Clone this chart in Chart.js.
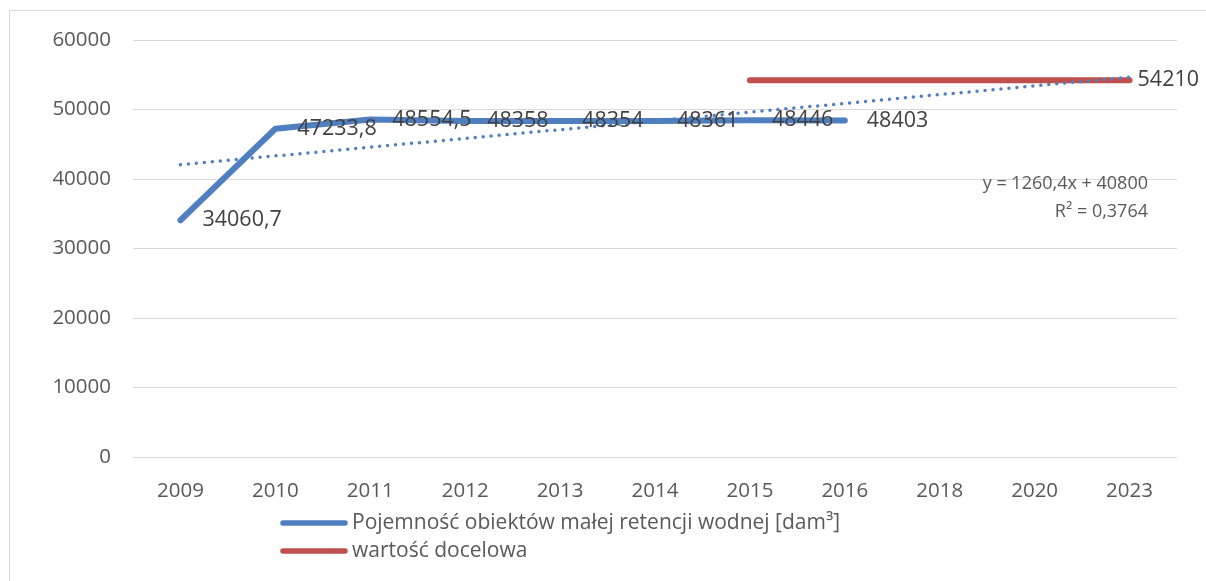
<!DOCTYPE html>
<html>
<head>
<meta charset="utf-8">
<script src="https://cdn.jsdelivr.net/npm/chart.js@4.4.0/dist/chart.umd.min.js"></script>
<style>
  html, body { margin: 0; padding: 0; background: #fff; overflow: hidden; }
  #frame { position: absolute; left: 9px; top: 10px; width: 1300px; height: 700px; border: 1px solid #d9d9d9; }
  #wrap { position: absolute; left: 0; top: 0; width: 1206px; height: 581px; }
</style>
</head>
<body>
<div id="frame"></div>
<div id="wrap"><canvas id="retencjaChart"></canvas></div>
<script>
// dane
const years = ['2009', '2010', '2011', '2012', '2013', '2014', '2015', '2016', '2018', '2020', '2023'];
const pojemnosc = [34060.7, 47233.8, 48554.5, 48358, 48354, 48361, 48446, 48403, null, null, null];
const docelowa = [null, null, null, null, null, null, 54210, 54210, 54210, 54210, 54210];
const trend = [42060, null, null, null, null, null, null, null, null, null, 54660];
const yTicks = [0, 10000, 20000, 30000, 40000, 50000, 60000];
const seriesNames = ['Pojemność obiektów małej retencji wodnej [dam³]', 'wartość docelowa'];
const trendText = ['y = 1260,4x + 40800', 'R² = 0,3764'];

const FONT = '"Open Sans", sans-serif';
const BLUE = '#4f7fbf';
const RED = '#c0504d';

function fmt(v) {
    return String(v).replace('.', ',');
}

// etykiety danych po prawej stronie punktow
const labelsPlugin = {
    id: 'dataLabels',
    afterDatasetsDraw(chart) {
        const ctx = chart.ctx;
        ctx.save();
        ctx.font = '21.5px ' + FONT;
        ctx.fillStyle = '#404040';
        ctx.textAlign = 'left';
        ctx.textBaseline = 'middle';
        chart.getDatasetMeta(0).data.forEach((pt, i) => {
            if (pojemnosc[i] == null) return;
            ctx.fillText(fmt(pojemnosc[i]), pt.x + 22, pt.y);
        });
        const redMeta = chart.getDatasetMeta(1).data;
        const last = redMeta[redMeta.length - 1];
        ctx.fillText(fmt(docelowa[docelowa.length - 1]), last.x + 8, last.y);

        // rownanie linii trendu
        const area = chart.chartArea;
        ctx.fillStyle = '#595959';
        ctx.font = '18px ' + FONT;
        ctx.textAlign = 'right';
        ctx.fillText(trendText[0], area.right - 29, chart.scales.y.getPixelForValue(39300));
        ctx.fillText(trendText[1], area.right - 29, chart.scales.y.getPixelForValue(35300));
        ctx.restore();
    }
};

// legenda w dwoch wierszach pod osia
const legendPlugin = {
    id: 'stackLegend',
    afterDraw(chart) {
        const ctx = chart.ctx;
        const colors = [BLUE, RED];
        ctx.save();
        ctx.font = '21px ' + FONT;
        ctx.fillStyle = '#595959';
        ctx.textAlign = 'left';
        ctx.textBaseline = 'middle';
        ctx.lineCap = 'round';
        ctx.lineWidth = 5.5;
        seriesNames.forEach((name, i) => {
            const y = 523 + i * 28;
            ctx.strokeStyle = colors[i];
            ctx.beginPath();
            ctx.moveTo(283, y);
            ctx.lineTo(345, y);
            ctx.stroke();
            ctx.fillText(name, 352, y);
        });
        ctx.restore();
    }
};

const ctx = document.getElementById('retencjaChart').getContext('2d');

new Chart(ctx, {
    type: 'line',
    data: {
        labels: years,
        datasets: [
            {
                label: seriesNames[0],
                data: pojemnosc,
                borderColor: BLUE,
                borderWidth: 6,
                borderCapStyle: 'round',
                borderJoinStyle: 'round',
                pointRadius: 0,
                tension: 0,
                order: 3
            },
            {
                label: seriesNames[1],
                data: docelowa,
                borderColor: RED,
                borderWidth: 6,
                borderCapStyle: 'round',
                pointRadius: 0,
                tension: 0,
                order: 2
            },
            {
                label: 'trend',
                data: trend,
                borderColor: BLUE,
                borderWidth: 3.5,
                borderDash: [0, 8],
                borderCapStyle: 'round',
                pointRadius: 0,
                spanGaps: true,
                order: 1
            }
        ]
    },
    options: {
        responsive: true,
        maintainAspectRatio: false,
        animation: false,
        layout: {
            padding: { left: 0, top: 40, right: 29, bottom: 74 }
        },
        scales: {
            x: {
                offset: true,
                grid: { display: false },
                border: { display: false },
                ticks: {
                    color: '#595959',
                    font: { family: FONT, size: 20.5 },
                    padding: 14,
                    maxRotation: 0
                },
                afterFit(scale) { scale.height = 50; }
            },
            y: {
                min: 0,
                max: 60000,
                afterBuildTicks(scale) {
                    scale.ticks = yTicks.map(v => ({ value: v }));
                },
                grid: { color: '#d9d9d9', lineWidth: 1, drawTicks: false },
                border: { display: false },
                ticks: {
                    color: '#595959',
                    font: { family: FONT, size: 20.5 },
                    padding: 22,
                    callback: v => String(v)
                },
                afterFit(scale) { scale.width = 133; }
            }
        },
        plugins: {
            legend: { display: false },
            tooltip: { enabled: false }
        }
    },
    plugins: [labelsPlugin, legendPlugin]
});
</script>
</body>
</html>
